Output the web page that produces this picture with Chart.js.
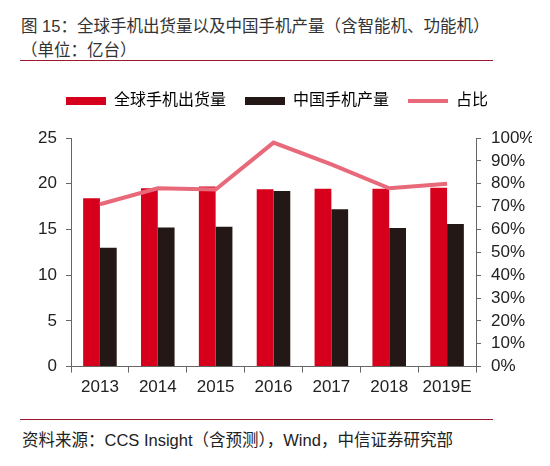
<!DOCTYPE html>
<html>
<head>
<meta charset="utf-8">
<script src="https://cdn.jsdelivr.net/npm/chart.js@4/dist/chart.umd.min.js"></script>
<style>
  html, body { margin:0; padding:0; background:#fff; }
  body { width:550px; height:466px; position:relative; overflow:hidden;
         font-family:"Liberation Sans","Noto Sans CJK SC",sans-serif; color:#333; }
  .titre { position:absolute; left:21px; top:14px; font-size:16.5px; line-height:24px;
           font-family:"Liberation Sans","Noto Sans CJK SC",sans-serif; color:#333; white-space:nowrap; }
  .trait { position:absolute; left:20px; width:473px; height:1px; background:#9b1b2c; }
  .source { position:absolute; left:22px; top:427px; font-size:16.5px; color:#222; white-space:nowrap; }
  #zone { position:absolute; left:0; top:70px; width:550px; height:340px; }
</style>
</head>
<body>
<div class="titre">图 15：全球手机出货量以及中国手机产量（含智能机、功能机）<br>（单位：亿台）</div>
<div class="trait" style="top:60px"></div>
<div id="zone"><canvas id="chart"></canvas></div>
<div class="trait" style="top:419px"></div>
<div class="source">资料来源：CCS Insight（含预测），Wind，中信证券研究部</div>
<script>
// categories (années)
const annees = ['2013', '2014', '2015', '2016', '2017', '2018', '2019E'];
// mondial, en milliards d'unités
const expeditionsMonde = [18.4, 19.5, 19.7, 19.4, 19.45, 19.45, 19.55];
// production Chine
const productionChine = [13.0, 15.2, 15.3, 19.2, 17.2, 15.15, 15.6];
// part de la Chine en %
const partChine = [71, 78, 77.5, 98, 88.5, 78, 80];

const rouge = '#d6001c';
const noir = '#231815';
const rose = '#e8697a';
const police = "'Liberation Sans', 'Noto Sans CJK SC', sans-serif";

// espace en plus sous la légende
const espaceLegende = {
    id: 'espaceLegende',
    beforeInit: function(chart){
        const fitOrig = chart.legend.fit;
        chart.legend.fit = function(){
            fitOrig.bind(chart.legend)();
            this.height += 19;
        };
    }
};

var ctx = document.getElementById('chart').getContext('2d');
var myChart = new Chart(ctx, {
    type: 'bar'
    , data: {
        labels: annees,
        datasets: [{
            label: '全球手机出货量',
            data: expeditionsMonde,
            backgroundColor: rouge,
            yAxisID: 'y',
            order: 1
        }, {
            label: '中国手机产量',
            data: productionChine,
            backgroundColor: noir,
            yAxisID: 'y',
            order: 1
        }, {
            type: 'line',
            label: '占比',
            data: partChine,
            borderColor: rose,
            backgroundColor: rose,
            borderWidth: 4,
            pointRadius: 0,
            tension: 0,
            yAxisID: 'y1',
            order: 0
        }]
    }
    , plugins: [espaceLegende]
    , options: {
        responsive: true
        ,maintainAspectRatio: false
        ,animation: false
        ,layout: { padding: { left: 22, right: 18, top: 4, bottom: 7 } }
        ,datasets: { bar: { categoryPercentage: 0.58, barPercentage: 1 } }
        ,plugins: {
            tooltip: { enabled: false },
            legend: {
                position: 'top',
                labels: {
                    usePointStyle: true,
                    pointStyleWidth: 40,
                    boxHeight: 8,
                    padding: 19,
                    color: '#222',
                    font: { family: police, size: 16 },
                    generateLabels: function(chart){
                        return chart.data.datasets.map(function(ds, i){
                            const ligne = ds.type === 'line';
                            return {
                                text: ds.label,
                                fillStyle: ds.backgroundColor,
                                strokeStyle: ligne ? ds.borderColor : ds.backgroundColor,
                                lineWidth: ligne ? 4 : 0,
                                pointStyle: ligne ? 'line' : 'rect',
                                datasetIndex: i,
                                hidden: false
                            };
                        });
                    }
                }
            }
        }
        ,scales: {
            x: {
                grid: { display: true, drawOnChartArea: false, offset: true, tickLength: 6, color: '#666' },
                border: { color: '#666', width: 1 },
                ticks: { color: '#222', font: { family: police, size: 17 }, padding: 5 }
            },
            y: {
                position: 'left',
                min: 0, max: 25,
                afterFit: function(scale){ scale.width = 49; },
                ticks: { stepSize: 5, color: '#222', font: { family: police, size: 17 }, padding: 9 },
                grid: { display: true, drawOnChartArea: false, tickLength: 5, color: '#666' },
                border: { color: '#666', width: 1 }
            },
            y1: {
                position: 'right',
                min: 0, max: 100,
                afterFit: function(scale){ scale.width = 56; },
                ticks: { stepSize: 10, autoSkip: false, color: '#222', font: { family: police, size: 17 }, padding: 10,
                         callback: function(v){ return v + '%'; } },
                grid: { display: true, drawOnChartArea: false, tickLength: 5, color: '#666' },
                border: { color: '#666', width: 1 }
            }
        }
    }
});
</script>
</body>
</html>
